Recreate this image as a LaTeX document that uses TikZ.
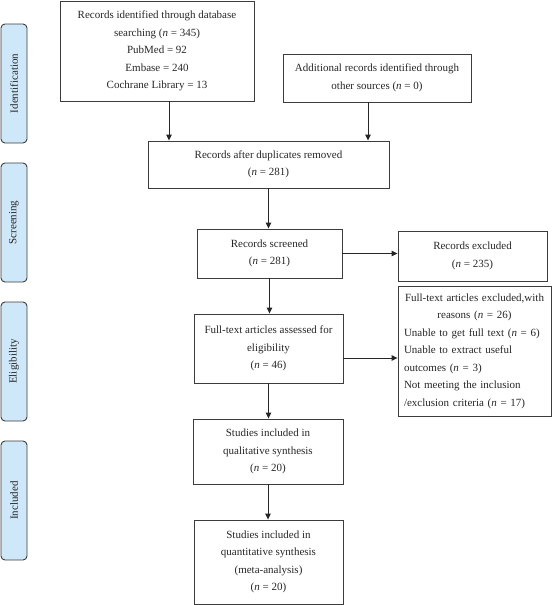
\documentclass[tikz,border=0pt]{standalone}
\usepackage{fontspec}
\setmainfont{Liberation Serif}
\usetikzlibrary{arrows.meta,calc}
\definecolor{sideblue}{RGB}{206,232,249}
\definecolor{lineg}{RGB}{60,60,60}
\begin{document}
\begin{tikzpicture}[x=1pt,y=-1pt,
  box/.style={draw=lineg, line width=0.9pt, inner sep=0pt, align=center,
    font=\fontsize{11}{17.5}\selectfont, text=black!85},
  side/.style={draw=lineg, line width=0.9pt, fill=sideblue, rounded corners=4pt,
    minimum width=119pt, minimum height=26pt, inner sep=0pt, rotate=90,
    font=\fontsize{11}{13}\selectfont, text=black!85},
  arr/.style={draw=black!85, line width=0.9pt, -{Triangle[width=5.5pt,length=6pt]}}]
\useasboundingbox (0,0) rectangle (552,605);

% side labels
\node[side] (s1) at (14,83.5) {Identification};
\node[side] (s2) at (14,222.5) {Screening};
\node[side] (s3) at (14,361.5) {Eligibility};
\node[side] (s4) at (14,500.5) {Included};

% boxes
\node[box, minimum width=194pt, minimum height=100pt] (b1) at (157,51)
  {Records identified through database\\ searching (\textit{n} = 345)\\ PubMed = 92\\ Embase = 240\\ Cochrane Library = 13};
\node[box, minimum width=188pt, minimum height=48pt] (b2) at (377,78)
  {Additional records identified through\\ other sources (\textit{n} = 0)};
\node[box, minimum width=241pt, minimum height=47pt] (b3) at (268.5,164.5)
  {Records after duplicates removed\\ (\textit{n} = 281)};
\node[box, minimum width=145pt, minimum height=49pt] (b4) at (269.5,253.5)
  {Records screened\\ (\textit{n} = 281)};
\node[box, minimum width=149pt, minimum height=50pt] (b5) at (472.5,256)
  {Records excluded\\ (\textit{n} = 235)};
\node[box, minimum width=149pt, minimum height=69pt] (b6) at (268.5,348.5)
  {Full-text articles assessed for\\ eligibility\\ (\textit{n} = 46)};
\node[box, minimum width=153pt, minimum height=130pt, text width=141pt, inner xsep=6pt, align=left] (b7) at (474.5,351)
  {\centering Full-text articles excluded,with\\ reasons (\textit{n} = 26)\par
   \raggedright Unable to get full text (\textit{n} = 6)\\ Unable to extract useful\\ outcomes (\textit{n} = 3)\\ Not meeting the inclusion\\ /exclusion criteria (\textit{n} = 17)\par};
\node[box, minimum width=150pt, minimum height=65pt] (b8) at (268,451.5)
  {Studies included in\\ qualitative synthesis\\ (\textit{n} = 20)};
\node[box, minimum width=149pt, minimum height=84pt] (b9) at (268.5,562)
  {Studies included in\\ quantitative synthesis\\ (meta-analysis)\\ (\textit{n} = 20)};

% connectors
\coordinate (a1) at ([xshift=12pt]b1.south);
\coordinate (a2) at ([xshift=-9pt]b2.south);
\coordinate (a6) at ([yshift=-9.5pt]b6.east);
\draw[arr] (a1) -- (a1 |- b3.north);
\draw[arr] (a2) -- (a2 |- b3.north);
\draw[arr] (b3.south) -- (b3.south |- b4.north);
\draw[arr] (b4.east) -- (b4.east -| b5.west);
\draw[arr] (b4.south) -- (b4.south |- b6.north);
\draw[arr] (a6) -- (a6 -| b7.west);
\draw[arr] (b6.south) -- (b6.south |- b8.north);
\draw[arr] (b8.south) -- (b8.south |- b9.north);
\end{tikzpicture}
\end{document}
